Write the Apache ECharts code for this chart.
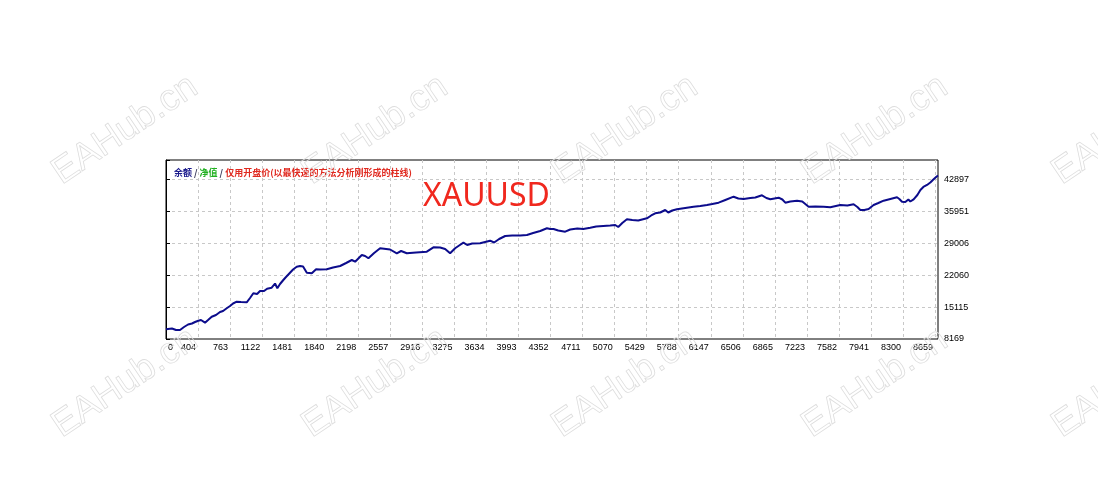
<!DOCTYPE html>
<html>
<head>
<meta charset="utf-8">
<script src="https://cdn.jsdelivr.net/npm/echarts@6/dist/echarts.min.js"></script>
<style>
html,body{margin:0;padding:0;background:#fff;}
#chart{width:1098px;height:490px;}
</style>
</head>
<body>
<div id="chart"></div>
<script>
// ---- data ----
const xTickLabels = ['0','404','763','1122','1481','1840','2198','2557','2916','3275','3634','3993','4352','4711','5070','5429','5788','6147','6506','6865','7223','7582','7941','8300','8659'];
const yTickLabels = ['8169','15115','22060','29006','35951','42897'];
const tradeNo = [0,67,112,157,202,247,291,325,362,392,437,471,512,560,605,639,680,717,751,792,840,904,941,978,1020,1053,1098,1132,1184,1221,1247,1277,1314,1344,1389,1423,1464,1501,1535,1577,1633,1681,1726,1801,1871,1950,2017,2081,2118,2193,2230,2267,2331,2398,2465,2510,2585,2633,2697,2801,2921,2995,3070,3126,3182,3238,3283,3331,3373,3429,3518,3574,3630,3675,3731,3799,3877,3967,4042,4112,4191,4266,4303,4340,4393,4471,4527,4606,4673,4751,4818,4897,4975,5031,5065,5110,5162,5222,5289,5386,5434,5479,5535,5591,5625,5670,5722,5815,5908,5984,6059,6118,6189,6264,6357,6410,6469,6544,6600,6675,6724,6768,6861,6903,6936,6992,7067,7126,7197,7272,7365,7440,7552,7631,7701,7743,7776,7821,7869,7925,7978,8037,8112,8187,8213,8243,8280,8314,8336,8373,8415,8449,8482,8523,8560,8594,8628,8646];
const balance = [10278,10452,10126,10126,10779,11322,11540,11866,12149,12301,11714,12301,13018,13388,14040,14258,14845,15345,15889,16280,16215,16150,17085,18107,17955,18607,18607,19107,19325,20238,19194,20129,20999,21651,22587,23282,23891,24043,23934,22587,22456,23326,23282,23326,23717,24043,24696,25348,24978,26436,26218,25718,26870,27893,27741,27632,26805,27305,26805,26979,27153,28110,28067,27741,26805,27893,28502,29110,28610,28936,28980,29263,29545,29154,29915,30567,30676,30676,30785,31220,31654,32242,32089,32089,31763,31502,31981,32198,32089,32372,32633,32742,32851,32959,32524,33394,34199,34047,33938,34416,35025,35503,35677,36221,35677,36112,36373,36656,36939,37091,37309,37526,37809,38396,39114,38722,38613,38831,38940,39418,38831,38548,38896,38505,37809,38070,38244,38070,36939,36982,36939,36808,37309,37200,37461,36873,36221,36221,36439,37309,37744,38244,38613,38983,38613,38026,37961,38505,38070,38548,39483,40571,41223,41658,42202,42854,43463,43724];
const legendParts = ['余额', '净值', '仅用开盘价(以最快速的方法分析刚形成的柱线)'];
const symbolName = 'XAUUSD';
const watermark = 'EAHub.cn';

// ---- chart ----
const chart = echarts.init(document.getElementById('chart'), null, {renderer: 'canvas'});
const labelFont = '"Liberation Sans", Arial, sans-serif';
const cjkFont = '"Noto Sans CJK SC", sans-serif';
const gridLine = {show: true, showMinLine: false, showMaxLine: false, lineStyle: {color: '#c8c8c8', type: [3, 3], width: 1}};

const wmPos = [[125,130],[375,130],[625,130],[875,130],[1125,130],[125,383],[375,383],[625,383],[875,383],[1125,383]];
const graphics = wmPos.map(p => ({
  type: 'text', x: p[0], y: p[1], rotation: 34 * Math.PI / 180, z: 100, silent: true,
  style: {text: watermark, fontSize: 37, fontFamily: '"Liberation Sans", Arial, sans-serif',
          fill: 'transparent', stroke: '#dddddd', lineWidth: 0.8, align: 'center', verticalAlign: 'middle'}
}));

chart.setOption({
  animation: false,
  backgroundColor: '#fff',
  title: [
    {
      left: 169, top: 163,
      text: '{a|' + legendParts[0] + '}{s| / }{b|' + legendParts[1] + '}{s| / }{c|' + legendParts[2] + '}',
      textStyle: {
        fontSize: 9, fontFamily: cjkFont,
        rich: {
          a: {color: '#1a1a8c', fontSize: 9, fontFamily: cjkFont},
          s: {color: '#333355', fontSize: 9, fontFamily: cjkFont},
          b: {color: '#20b020', fontSize: 9, fontFamily: cjkFont},
          c: {color: '#e02a20', fontSize: 9, fontFamily: cjkFont}
        }
      }
    },
    {
      left: 418, top: 176,
      text: symbolName,
      textStyle: {color: '#f0281e', fontSize: 32, fontWeight: 'normal', fontFamily: '"Noto Sans", sans-serif'}
    }
  ],
  grid: {left: 166, right: 160, top: 160, bottom: 151, show: true, borderColor: '#000', borderWidth: 1, backgroundColor: 'transparent'},
  xAxis: [
    {type: 'value', min: 0, max: 8646, show: false},
    {
      type: 'value', min: 0, max: 24.09, interval: 1, position: 'bottom',
      axisLine: {show: false}, axisTick: {show: false},
      splitLine: gridLine,
      axisLabel: {
        show: true, margin: 4, align: 'right', alignMinLabel: 'left', padding: [0, 2, 0, 2],
        color: '#000', fontSize: 9, fontFamily: labelFont,
        showMinLabel: true, showMaxLabel: true, hideOverlap: false,
        formatter: v => (Math.abs(v - Math.round(v)) < 1e-6 && xTickLabels[Math.round(v)] !== undefined) ? xTickLabels[Math.round(v)] : ''
      }
    }
  ],
  yAxis: [
    {type: 'value', min: 8169, max: 47093, show: false},
    {
      type: 'value', min: 0, max: 5.604, interval: 1, position: 'right',
      axisLine: {show: true, lineStyle: {color: '#000', width: 1}},
      axisTick: {show: true, length: 4, lineStyle: {color: '#000'}},
      splitLine: gridLine,
      axisLabel: {
        show: true, margin: 6, color: '#000', fontSize: 9, fontFamily: labelFont,
        showMinLabel: true, hideOverlap: false,
        formatter: v => (Math.abs(v - Math.round(v)) < 1e-6 && yTickLabels[Math.round(v)] !== undefined) ? yTickLabels[Math.round(v)] : ''
      }
    }
  ],
  series: [{
    type: 'line', xAxisIndex: 0, yAxisIndex: 0,
    data: tradeNo.map((x, i) => [x, balance[i]]),
    showSymbol: false, symbol: 'none',
    lineStyle: {color: '#0c0c8c', width: 2},
    z: 3
  }],
  graphic: graphics
});
</script>
</body>
</html>
